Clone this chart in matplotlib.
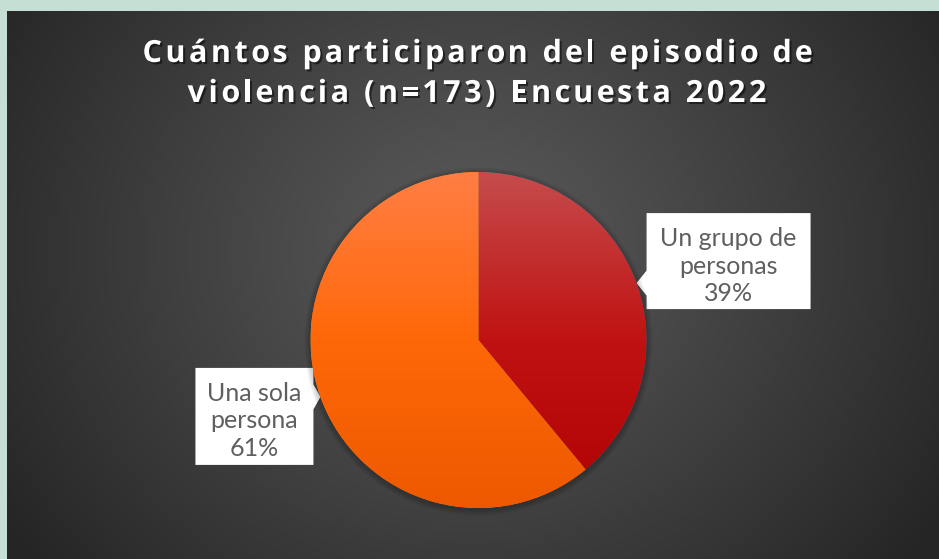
import numpy as np
import matplotlib
matplotlib.use("Agg")
import matplotlib.pyplot as plt
from matplotlib.patches import Polygon, Circle
import matplotlib.patheffects as pe

# ---- data ----
categories = ["Un grupo de\npersonas", "Una sola\npersona"]
shares = [39, 61]
title_lines = ["Cuántos participaron del episodio de",
               "violencia (n=173) Encuesta 2022"]

W, H = 939, 559
fig = plt.figure(figsize=(W / 100, H / 100), dpi=100)

# ---- background: pale frame + dark radial gradient panel ----
bg = fig.add_axes([0, 0, 1, 1])
bg.set_xlim(0, W)
bg.set_ylim(H, 0)
bg.axis("off")
yy, xx = np.mgrid[0:H, 0:W]
d = np.hypot((xx - 470) / 1.0, (yy - 250) / 0.9)
t = np.clip(d / 560, 0, 1) ** 1.1
c0 = np.array([0x5a, 0x5a, 0x5a]) / 255
c1 = np.array([0x25, 0x25, 0x25]) / 255
img = c0[None, None, :] * (1 - t[..., None]) + c1[None, None, :] * t[..., None]
frame = np.array([0xc6, 0xdf, 0xd5]) / 255
img[:11, :, :] = frame
img[:, :7, :] = frame
bg.imshow(img, extent=(0, W, H, 0), interpolation="bilinear", zorder=0)

# ---- title with letter spacing ----
renderer = fig.canvas.get_renderer()
title_kw = dict(fontsize=22, fontweight="bold", family=["Open Sans", "DejaVu Sans"],
                color="white")


def text_width(s, **kw):
    tt = bg.text(0, 0, s, **kw)
    w = tt.get_window_extent(renderer).width
    tt.remove()
    return w


def advances(s, **kw):
    base = text_width("xx", **kw)
    return [text_width("x" + ch + "x", **kw) - base for ch in s]


adv1 = advances(title_lines[0], **title_kw)
target_w = 669
spacing = (target_w - sum(adv1)) / (len(title_lines[0]) - 1)
shadow = [pe.withSimplePatchShadow(offset=(1.5, -1.5), shadow_rgbFace="black", alpha=0.5)]
for line, base_y in zip(title_lines, [62, 102]):
    adv = advances(line, **title_kw)
    total = sum(adv) + spacing * (len(line) - 1)
    x = 477 - total / 2
    for ch, a in zip(line, adv):
        if ch != " ":
            bg.text(x, base_y, ch, ha="left", va="baseline", path_effects=shadow,
                    zorder=5, **title_kw)
        x += a + spacing

# ---- pie ----
cx, cy, R = 478.5, 340, 168
pie_ax = fig.add_axes([(cx - R) / W, (H - cy - R) / H, 2 * R / W, 2 * R / H])
wedges, _ = pie_ax.pie(shares, startangle=90, counterclock=False, radius=1,
                       wedgeprops=dict(linewidth=0))
pie_ax.set_xlim(-1, 1)
pie_ax.set_ylim(-1, 1)
pie_ax.axis("off")

# soft shadow around the pie
for k in range(6):
    pie_ax.add_patch(Circle((0.0, -0.008), 1 + 0.006 * (k + 1), color="black",
                            alpha=0.035, lw=0, zorder=0, clip_on=False))

grad_stops = [
    [(0xc6, 0x4c, 0x4c), (0xc0, 0x12, 0x12), (0xb0, 0x02, 0x02)],
    [(0xff, 0x7e, 0x45), (0xff, 0x68, 0x08), (0xee, 0x58, 0x00)],
]
ys = np.linspace(1, -1, 256)
for w, stops in zip(wedges, grad_stops):
    s = np.array(stops) / 255
    col = np.empty((256, 3))
    for ch in range(3):
        col[:, ch] = np.interp(ys, [-1, 0, 1], [s[2, ch], s[1, ch], s[0, ch]])
    g = np.repeat(col[:, None, :], 2, axis=1)
    im = pie_ax.imshow(g, extent=(-1, 1, -1, 1), aspect="auto", zorder=2,
                       interpolation="bilinear")
    im.set_clip_path(w)
    w.set_zorder(1)

# ---- callout labels pointing at each wedge's middle ----
label_kw = dict(fontsize=18, fontweight="normal", family=["Lato", "DejaVu Sans"],
                color="#5f5f5f", ha="center", va="baseline", zorder=6)
# (gap to box, box width, box top above tip, box height, side)
layouts = [(10, 164, 70, 96, 1), (7, 118, 29, 97, -1)]
angle = 90.0
for label, share, (gap, bw, top_off, bh, side) in zip(categories, shares, layouts):
    span = share / sum(shares) * 360
    mid = np.deg2rad(angle - span / 2)
    angle -= span
    tx = cx + R * np.cos(mid)
    ty = cy - R * np.sin(mid)
    edge = tx + side * gap
    far = edge + side * bw
    top, bot = ty - top_off, ty - top_off + bh
    poly = [(edge, top), (far, top), (far, bot), (edge, bot),
            (edge, ty + 12.5), (tx, ty), (edge, ty - 12.5)]
    bg.add_patch(Polygon(poly, closed=True, facecolor="white", edgecolor="none", zorder=5))
    lines = label.split("\n") + [f"{share}%"]
    xc = (edge + far) / 2
    for i, ln in enumerate(lines):
        bg.text(xc, top + 33 + 27.5 * i, ln, **label_kw)

fig.savefig("out.png", dpi=100)
